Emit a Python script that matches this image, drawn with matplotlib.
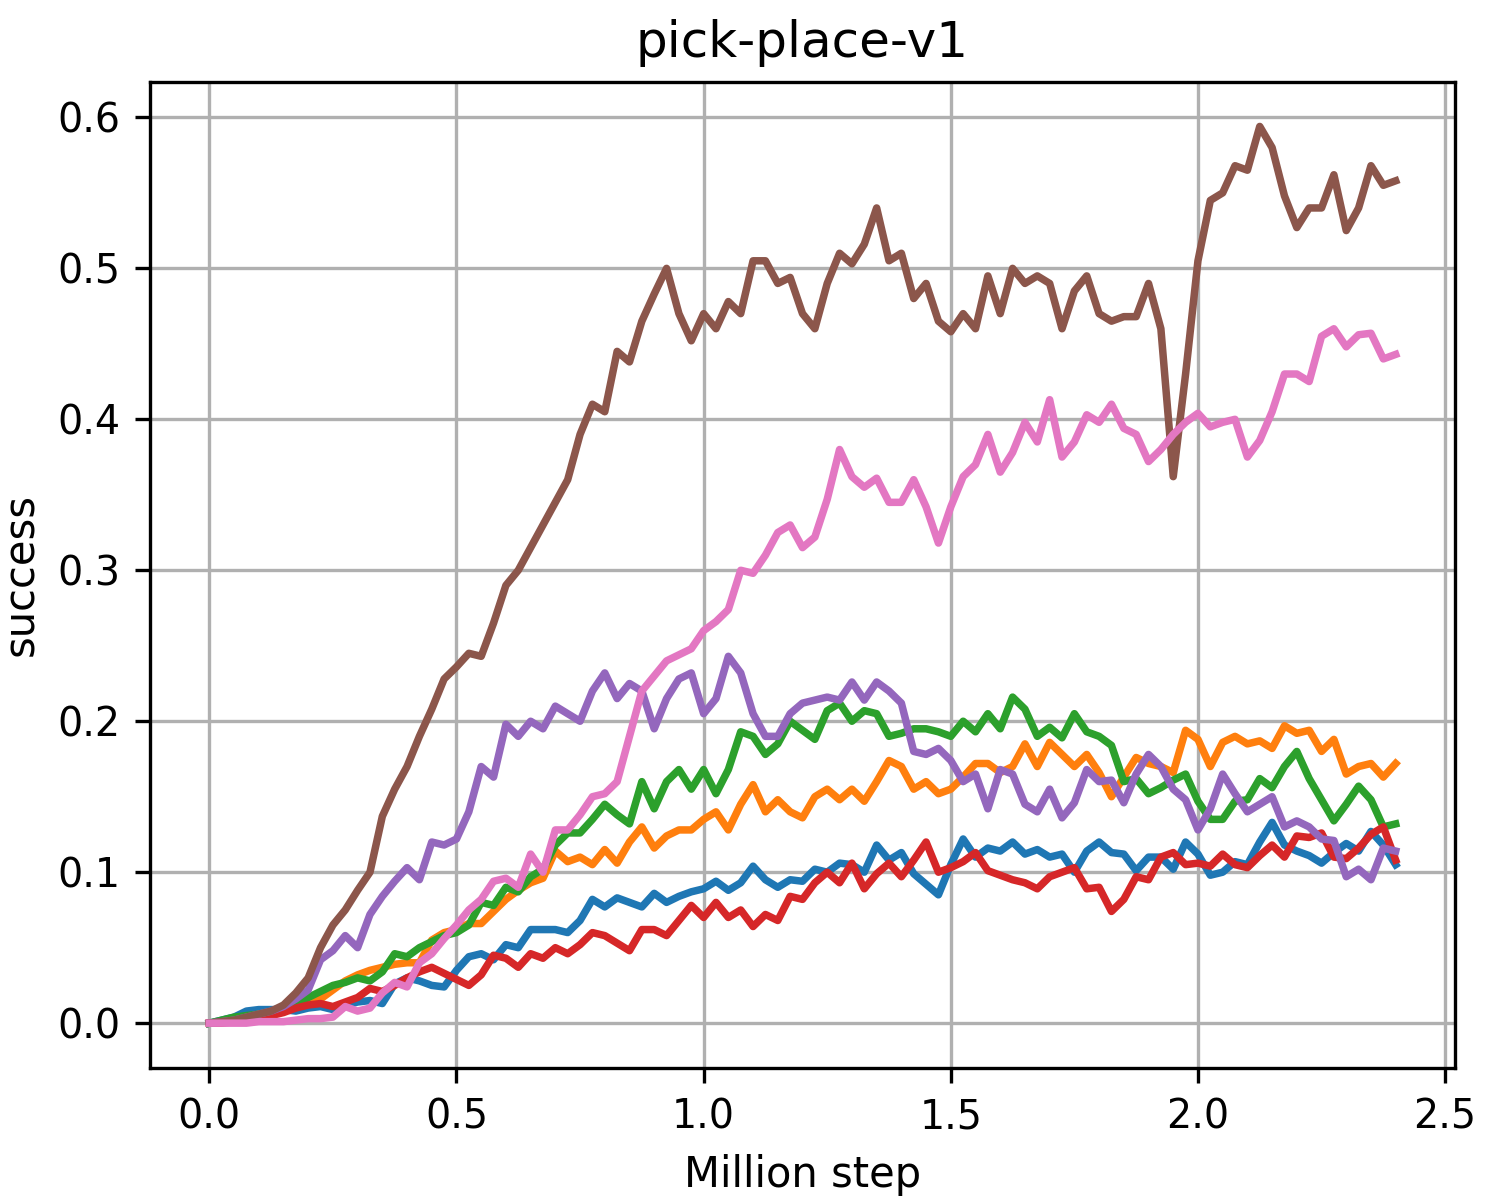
import numpy as np
import matplotlib
matplotlib.use('Agg')
from matplotlib import pyplot as plt

# Data, x in million steps, step 0.025
STEPS = np.round(np.arange(0, 2.4001, 0.025), 3)

blue = [0, 0.002, 0.004, 0.008, 0.009, 0.009, 0.009, 0.008, 0.01, 0.011, 0.009, 0.012, 0.014, 0.015, 0.013, 0.026,
        0.03, 0.028, 0.025, 0.024, 0.035, 0.044, 0.046, 0.042, 0.052, 0.05, 0.062, 0.062, 0.062, 0.06, 0.068, 0.082,
        0.077, 0.083, 0.08, 0.077, 0.086, 0.08, 0.084, 0.087, 0.089, 0.094, 0.088, 0.093, 0.104, 0.095, 0.09, 0.095,
        0.094, 0.102, 0.1, 0.106, 0.105, 0.1, 0.118, 0.108, 0.113, 0.099, 0.092, 0.085, 0.105, 0.122, 0.11, 0.116,
        0.114, 0.12, 0.112, 0.115, 0.11, 0.112, 0.1, 0.114, 0.12, 0.113, 0.112, 0.101, 0.11, 0.11, 0.102, 0.12,
        0.112, 0.098, 0.1, 0.107, 0.105, 0.12, 0.133, 0.118, 0.114, 0.111, 0.106, 0.113, 0.119, 0.114, 0.127, 0.118,
        0.105]

orange = [0, 0.001, 0.002, 0.003, 0.004, 0.006, 0.008, 0.011, 0.014, 0.016, 0.022, 0.028, 0.032, 0.035, 0.037, 0.039,
          0.04, 0.04, 0.055, 0.06, 0.062, 0.066, 0.066, 0.074, 0.082, 0.088, 0.093, 0.096, 0.114, 0.107, 0.11, 0.105,
          0.115, 0.106, 0.12, 0.13, 0.116, 0.124, 0.128, 0.128, 0.135, 0.14, 0.128, 0.145, 0.158, 0.14, 0.148, 0.14,
          0.136, 0.15, 0.155, 0.148, 0.155, 0.147, 0.16, 0.174, 0.17, 0.155, 0.16, 0.152, 0.155, 0.163, 0.172, 0.172,
          0.166, 0.17, 0.185, 0.17, 0.186, 0.178, 0.17, 0.178, 0.166, 0.15, 0.163, 0.176, 0.172, 0.17, 0.166, 0.194,
          0.188, 0.17, 0.186, 0.19, 0.185, 0.187, 0.182, 0.197, 0.192, 0.194, 0.18, 0.188, 0.165, 0.17, 0.172, 0.163,
          0.172]

green = [0, 0.002, 0.004, 0.005, 0.006, 0.007, 0.009, 0.012, 0.017, 0.021, 0.025, 0.027, 0.03, 0.028, 0.034, 0.046,
         0.044, 0.05, 0.054, 0.058, 0.06, 0.065, 0.08, 0.078, 0.09, 0.087, 0.097, 0.102, 0.118, 0.126, 0.126, 0.135,
         0.145, 0.138, 0.132, 0.16, 0.142, 0.16, 0.168, 0.155, 0.168, 0.152, 0.168, 0.193, 0.19, 0.178, 0.185, 0.2,
         0.194, 0.188, 0.207, 0.212, 0.2, 0.207, 0.205, 0.19, 0.192, 0.195, 0.195, 0.193, 0.19, 0.2, 0.193, 0.205,
         0.195, 0.216, 0.208, 0.19, 0.196, 0.189, 0.205, 0.193, 0.19, 0.184, 0.16, 0.162, 0.152, 0.156, 0.161, 0.165,
         0.147, 0.135, 0.135, 0.147, 0.148, 0.162, 0.156, 0.17, 0.18, 0.162, 0.148, 0.134, 0.145, 0.157, 0.148, 0.13,
         0.132]

red = [0, 0.0, 0.001, 0.002, 0.003, 0.005, 0.007, 0.01, 0.012, 0.013, 0.011, 0.014, 0.017, 0.023, 0.021, 0.025,
       0.03, 0.034, 0.037, 0.033, 0.029, 0.025, 0.032, 0.045, 0.043, 0.037, 0.046, 0.043, 0.05, 0.046, 0.052, 0.06,
       0.058, 0.053, 0.048, 0.062, 0.062, 0.058, 0.068, 0.078, 0.07, 0.08, 0.07, 0.075, 0.064, 0.072, 0.068, 0.084,
       0.082, 0.093, 0.1, 0.093, 0.106, 0.089, 0.099, 0.106, 0.097, 0.108, 0.12, 0.1, 0.103, 0.107, 0.113, 0.101,
       0.098, 0.095, 0.093, 0.089, 0.097, 0.1, 0.103, 0.089, 0.09, 0.074, 0.082, 0.097, 0.095, 0.11, 0.113, 0.105,
       0.106, 0.104, 0.112, 0.105, 0.103, 0.111, 0.118, 0.11, 0.124, 0.123, 0.126, 0.11, 0.109, 0.116, 0.125, 0.13,
       0.108]

purple = [0, 0.001, 0.002, 0.004, 0.006, 0.008, 0.011, 0.016, 0.022, 0.042, 0.048, 0.058, 0.05, 0.072, 0.084, 0.094,
          0.103, 0.095, 0.12, 0.118, 0.122, 0.14, 0.17, 0.163, 0.198, 0.19, 0.2, 0.195, 0.21, 0.205, 0.2, 0.22,
          0.232, 0.215, 0.225, 0.22, 0.195, 0.215, 0.228, 0.232, 0.205, 0.215, 0.243, 0.232, 0.205, 0.19, 0.19, 0.205,
          0.212, 0.214, 0.216, 0.214, 0.226, 0.214, 0.226, 0.22, 0.212, 0.18, 0.178, 0.182, 0.174, 0.16, 0.165, 0.142,
          0.168, 0.165, 0.145, 0.14, 0.155, 0.136, 0.146, 0.168, 0.16, 0.161, 0.146, 0.165, 0.178, 0.17, 0.155, 0.148,
          0.128, 0.142, 0.165, 0.152, 0.14, 0.145, 0.15, 0.13, 0.134, 0.13, 0.122, 0.121, 0.097, 0.102, 0.095, 0.116,
          0.114]

brown = [0, 0.001, 0.002, 0.004, 0.006, 0.008, 0.012, 0.02, 0.03, 0.05, 0.065, 0.075, 0.088, 0.1, 0.137, 0.155,
         0.17, 0.19, 0.208, 0.228, 0.236, 0.245, 0.243, 0.265, 0.29, 0.3, 0.315, 0.33, 0.345, 0.36, 0.39, 0.41,
         0.405, 0.445, 0.438, 0.465, 0.483, 0.5, 0.47, 0.452, 0.47, 0.46, 0.478, 0.47, 0.505, 0.505, 0.49, 0.494,
         0.47, 0.46, 0.49, 0.51, 0.503, 0.516, 0.54, 0.505, 0.51, 0.48, 0.49, 0.465, 0.458, 0.47, 0.46, 0.495,
         0.47, 0.5, 0.49, 0.495, 0.49, 0.46, 0.485, 0.495, 0.47, 0.465, 0.468, 0.468, 0.49, 0.46, 0.362, 0.43,
         0.505, 0.545, 0.55, 0.568, 0.565, 0.594, 0.58, 0.548, 0.527, 0.54, 0.54, 0.562, 0.525, 0.54, 0.568, 0.555,
         0.558]

pink = [0, 0, 0, 0, 0.001, 0.001, 0.001, 0.002, 0.003, 0.003, 0.004, 0.011, 0.008, 0.01, 0.02, 0.027,
        0.024, 0.04, 0.046, 0.056, 0.065, 0.075, 0.082, 0.094, 0.096, 0.09, 0.112, 0.1, 0.128, 0.128, 0.138, 0.15,
        0.152, 0.16, 0.19, 0.22, 0.23, 0.24, 0.244, 0.248, 0.26, 0.266, 0.274, 0.3, 0.298, 0.31, 0.325, 0.33,
        0.315, 0.322, 0.347, 0.38, 0.362, 0.355, 0.361, 0.345, 0.345, 0.36, 0.342, 0.318, 0.342, 0.362, 0.37, 0.39,
        0.365, 0.378, 0.398, 0.385, 0.413, 0.375, 0.385, 0.403, 0.398, 0.41, 0.394, 0.39, 0.372, 0.38, 0.39, 0.398,
        0.404, 0.395, 0.398, 0.4, 0.375, 0.386, 0.405, 0.43, 0.43, 0.425, 0.455, 0.46, 0.448, 0.456, 0.457, 0.44,
        0.443]

SERIES = [blue, orange, green, red, purple, brown, pink]

# Plot
fig = plt.figure(figsize = [5, 4], dpi = 300)
for values in SERIES:
    plt.plot(STEPS, values, linewidth = 1.8)

plt.title('pick-place-v1', fontsize = 12)
plt.xlabel('Million step', fontsize = 10)
plt.ylabel('success', fontsize = 10)
plt.xticks(fontsize = 9.5)
plt.yticks(fontsize = 9.5)
plt.grid(True)
plt.subplots_adjust(left = 0.1, right = 0.97, top = 0.932, bottom = 0.11)

plt.savefig('out.png', dpi = 300)
plt.close()
